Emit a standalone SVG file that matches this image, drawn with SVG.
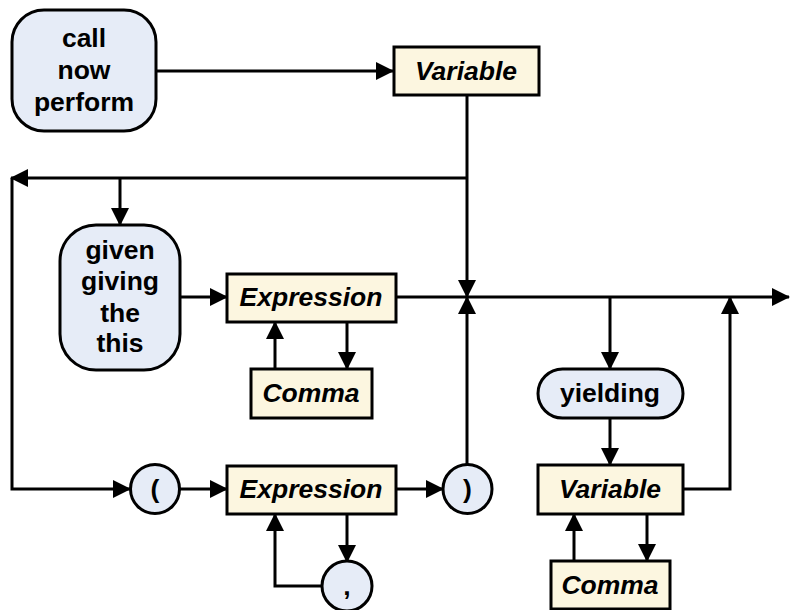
<svg xmlns="http://www.w3.org/2000/svg" width="790" height="610" viewBox="0 0 790 610">
<style>
.kw{fill:#e6ecf7;stroke:#000;stroke-width:3}
.nt{fill:#fcf6e0;stroke:#000;stroke-width:3}
.t{font-family:"Liberation Sans",Arial,sans-serif;font-weight:bold;font-size:26.5px;text-anchor:middle;dominant-baseline:central;fill:#000}
.i{font-style:italic}
.e{fill:none;stroke:#000;stroke-width:3}
</style>
<defs>
<marker id="a" markerUnits="userSpaceOnUse" markerWidth="18" markerHeight="18" refX="17" refY="9" orient="auto">
<path d="M0,0 L18,9 L0,18 Z" fill="#000"/>
</marker>
</defs>
<g id="connectors">
<path class="e" d="M156,71 H393" marker-end="url(#a)"/>
<path class="e" d="M467,95 V297" marker-end="url(#a)"/>
<path class="e" d="M467,178 H11" marker-end="url(#a)"/>
<path class="e" d="M120,178 V225" marker-end="url(#a)"/>
<path class="e" d="M12,178 V489 H130" marker-end="url(#a)"/>
<path class="e" d="M180,297 H227" marker-end="url(#a)"/>
<path class="e" d="M396,297 H789" marker-end="url(#a)"/>
<path class="e" d="M275,369 V322" marker-end="url(#a)"/>
<path class="e" d="M347,322 V369" marker-end="url(#a)"/>
<path class="e" d="M610,297 V369" marker-end="url(#a)"/>
<path class="e" d="M179,489 H227" marker-end="url(#a)"/>
<path class="e" d="M396,489 H443" marker-end="url(#a)"/>
<path class="e" d="M347,514 V562" marker-end="url(#a)"/>
<path class="e" d="M322,586 H275 V514" marker-end="url(#a)"/>
<path class="e" d="M467,465 V297" marker-end="url(#a)"/>
<path class="e" d="M610,418 V465" marker-end="url(#a)"/>
<path class="e" d="M683,489 H730 V297" marker-end="url(#a)"/>
<path class="e" d="M574,561 V514" marker-end="url(#a)"/>
<path class="e" d="M647,514 V561" marker-end="url(#a)"/>
</g>
<g id="n_call">
<rect class="kw" x="12" y="10" width="144" height="121" rx="32"/>
<text class="t" x="84" y="38">call</text>
<text class="t" x="84" y="70">now</text>
<text class="t" x="84" y="102">perform</text>
</g>
<g id="n_variable1">
<rect class="nt" x="394" y="47" width="145" height="48"/>
<text class="t i" x="466" y="71">Variable</text>
</g>
<g id="n_given">
<rect class="kw" x="60" y="225" width="120" height="145" rx="36"/>
<text class="t" x="120" y="250">given</text>
<text class="t" x="120" y="281">giving</text>
<text class="t" x="120" y="313">the</text>
<text class="t" x="120" y="343">this</text>
</g>
<g id="n_expression1">
<rect class="nt" x="227" y="274" width="169" height="48"/>
<text class="t i" x="311" y="297">Expression</text>
</g>
<g id="n_comma1">
<rect class="nt" x="251" y="369" width="121" height="49"/>
<text class="t i" x="311" y="393">Comma</text>
</g>
<g id="n_yielding">
<rect class="kw" x="538" y="369" width="145" height="49" rx="24.5"/>
<text class="t" x="610" y="393">yielding</text>
</g>
<g id="n_lparen">
<circle class="kw" cx="155" cy="489" r="24.5"/>
<text class="t" x="155" y="489">(</text>
</g>
<g id="n_expression2">
<rect class="nt" x="227" y="466" width="169" height="48"/>
<text class="t i" x="311" y="489">Expression</text>
</g>
<g id="n_comma_sym">
<circle class="kw" cx="347" cy="586" r="25"/>
<text class="t" x="347" y="586">,</text>
</g>
<g id="n_rparen">
<circle class="kw" cx="467.5" cy="489" r="24.5"/>
<text class="t" x="467.5" y="489">)</text>
</g>
<g id="n_variable2">
<rect class="nt" x="538" y="465" width="145" height="49"/>
<text class="t i" x="610" y="489">Variable</text>
</g>
<g id="n_comma2">
<rect class="nt" x="551" y="561" width="119" height="48"/>
<text class="t i" x="610" y="585">Comma</text>
</g>
</svg>
